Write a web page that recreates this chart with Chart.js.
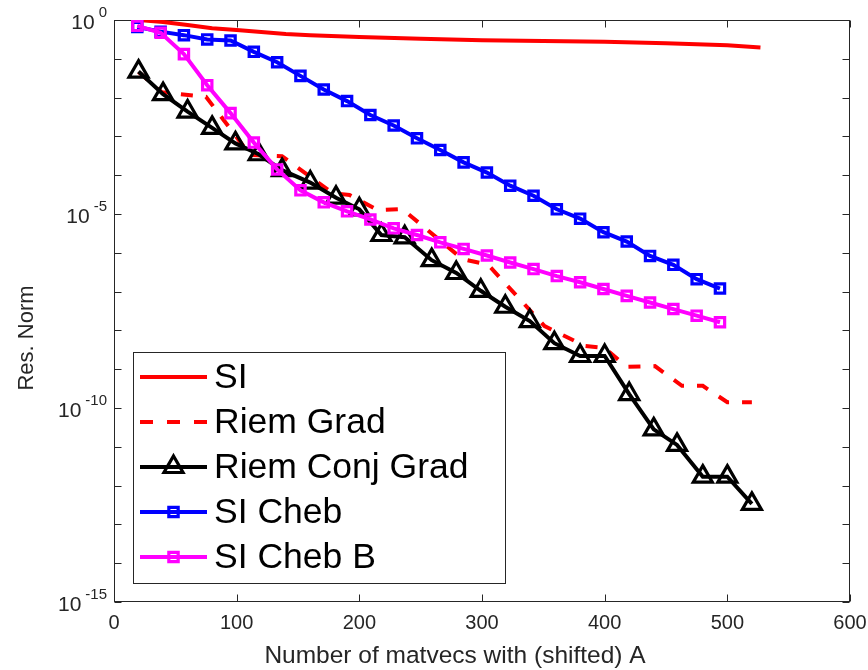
<!DOCTYPE html>
<html><head><meta charset="utf-8">
<script src="https://cdn.jsdelivr.net/npm/chart.js@4.4.0/dist/chart.umd.min.js"></script>
<style>html,body{margin:0;padding:0;background:#fff;} canvas{display:block;}</style>
</head><body>
<canvas id="c" width="868" height="670"></canvas>
<script>
// ---- data ----
const seriesNames = ['SI', 'Riem Grad', 'Riem Conj Grad', 'SI Cheb', 'SI Cheb B'];

const siX = [20, 40, 60, 80, 100, 120, 140, 160, 200, 250, 300, 350, 400, 450, 500, 527];
const siY = [1.0, 8.91e-1, 7.41e-1, 6.17e-1, 5.50e-1, 4.90e-1, 4.37e-1, 4.07e-1, 3.63e-1, 3.31e-1, 3.02e-1, 2.88e-1, 2.75e-1, 2.51e-1, 2.24e-1, 1.95e-1];

const rgX = [20, 39, 75, 111, 137, 178, 192, 215, 235, 284, 305, 351, 384, 400, 418, 441, 463, 480, 500, 520];
const rgY = [4.57e-2, 1.38e-2, 1.05e-2, 3.31e-4, 3.09e-4, 3.47e-5, 3.09e-5, 1.26e-5, 1.35e-5, 6.92e-7, 4.90e-7, 1.29e-8, 3.98e-9, 3.55e-9, 1.15e-9, 1.20e-9, 3.72e-10, 3.72e-10, 1.41e-10, 1.41e-10];

const rcgX = [20, 40, 60, 80, 99, 118, 137, 160, 181, 200, 218, 237, 259, 279, 299, 319, 339, 359, 380, 400, 420, 440, 459, 480, 500, 520];
const rcgY = [4.68e-2, 1.23e-2, 4.37e-3, 1.66e-3, 6.61e-4, 3.47e-4, 1.35e-4, 6.46e-5, 2.63e-5, 1.32e-5, 2.88e-6, 2.51e-6, 6.46e-7, 3.02e-7, 1.05e-7, 4.07e-8, 1.74e-8, 4.68e-9, 2.19e-9, 2.19e-9, 2.29e-10, 2.82e-11, 1.12e-11, 1.70e-12, 1.70e-12, 3.39e-13];

const chebX = [19, 38, 57, 76, 95, 114, 133, 152, 171, 190, 209, 228, 247, 266, 285, 304, 323, 342, 361, 380, 399, 418, 437, 456, 475, 494];
const chebY = [6.61e-1, 5.01e-1, 4.07e-1, 3.16e-1, 2.95e-1, 1.51e-1, 8.13e-2, 3.63e-2, 1.62e-2, 8.13e-3, 3.55e-3, 1.91e-3, 8.91e-4, 4.47e-4, 2.14e-4, 1.17e-4, 5.37e-5, 2.95e-5, 1.32e-5, 7.59e-6, 3.39e-6, 1.95e-6, 8.32e-7, 4.90e-7, 2.09e-7, 1.20e-7];

const chebBX = [19, 38, 57, 76, 95, 114, 133, 152, 171, 190, 209, 228, 247, 266, 285, 304, 323, 342, 361, 380, 399, 418, 437, 456, 475, 494];
const chebBY = [7.08e-1, 4.68e-1, 1.32e-1, 2.09e-2, 3.98e-3, 6.92e-4, 1.41e-4, 4.07e-5, 2.00e-5, 1.17e-5, 7.24e-6, 4.27e-6, 2.88e-6, 1.86e-6, 1.26e-6, 8.51e-7, 5.62e-7, 3.80e-7, 2.51e-7, 1.74e-7, 1.17e-7, 7.76e-8, 5.25e-8, 3.55e-8, 2.40e-8, 1.62e-8];

const xTickValues = [0, 100, 200, 300, 400, 500, 600];
const yLabelExponents = [0, -5, -10, -15];
const yTickExponents = [0, -1, -2, -3, -4, -5, -6, -7, -8, -9, -10, -11, -12, -13, -14, -15];
const xAxisTitle = 'Number of matvecs with (shifted) A';
const yAxisTitle = 'Res. Norm';

// ---- styling ----
const FONT = '"Liberation Sans", Arial, Helvetica, sans-serif';
const AX = '#262626';
const LW = 4;
const TRI_R = 11, RECT_R = 6.6;

function pts(xs, ys) { return xs.map((x, i) => ({ x: x, y: ys[i] })); }

const styles = [
  { color: '#ff0000', dash: [], marker: null },
  { color: '#ff0000', dash: [12, 13], marker: null },
  { color: '#000000', dash: [], marker: 'triangle' },
  { color: '#0000ff', dash: [], marker: 'rect' },
  { color: '#ff00ff', dash: [], marker: 'rect' }
];
const xs = [siX, rgX, rcgX, chebX, chebBX];
const ys = [siY, rgY, rcgY, chebY, chebBY];

const datasets = seriesNames.map((name, i) => ({
  label: name,
  data: pts(xs[i], ys[i]),
  borderColor: styles[i].color,
  borderWidth: LW,
  borderDash: styles[i].dash,
  tension: 0,
  fill: false,
  order: 5 - i,
  pointStyle: styles[i].marker || 'circle',
  pointRadius: styles[i].marker === 'triangle' ? TRI_R : (styles[i].marker === 'rect' ? RECT_R : 0),
  pointHoverRadius: 0,
  pointBorderWidth: 3.2,
  pointBorderColor: styles[i].color,
  pointBackgroundColor: 'rgba(0,0,0,0)'
}));

function drawMarker(ctx, type, x, y, r, color) {
  ctx.save();
  ctx.strokeStyle = color; ctx.lineWidth = 3.2; ctx.setLineDash([]);
  ctx.beginPath();
  if (type === 'rect') {
    const s = r * Math.SQRT1_2;
    ctx.rect(x - s, y - s, 2 * s, 2 * s);
  } else if (type === 'triangle') {
    let rad = 0;
    ctx.moveTo(x + Math.sin(rad) * r, y - Math.cos(rad) * r);
    rad += 2 * Math.PI / 3;
    ctx.lineTo(x + Math.sin(rad) * r, y - Math.cos(rad) * r);
    rad += 2 * Math.PI / 3;
    ctx.lineTo(x + Math.sin(rad) * r, y - Math.cos(rad) * r);
    ctx.closePath();
  }
  ctx.stroke();
  ctx.restore();
}

const axesPlugin = {
  id: 'matlabAxes',
  beforeDatasetsDraw(chart) {
    const { ctx, chartArea: a, scales: { x, y } } = chart;
    ctx.save();
    ctx.strokeStyle = AX; ctx.lineWidth = 1;
    const L = Math.round(a.left) + 0.5, R = Math.round(a.right) - 0.5;
    const T = Math.round(a.top) + 0.5, B = Math.round(a.bottom) - 0.5;
    ctx.strokeRect(L, T, R - L, B - T);
    const tl = 7;
    ctx.beginPath();
    xTickValues.forEach(v => {
      const px = Math.round(x.getPixelForValue(v)) + 0.5;
      ctx.moveTo(px, B); ctx.lineTo(px, B - tl);
      ctx.moveTo(px, T); ctx.lineTo(px, T + tl);
    });
    yTickExponents.forEach(e => {
      const py = Math.round(y.getPixelForValue(Math.pow(10, e))) + 0.5;
      ctx.moveTo(L, py); ctx.lineTo(L + tl, py);
      ctx.moveTo(R, py); ctx.lineTo(R - tl, py);
    });
    ctx.stroke();

    ctx.fillStyle = AX;
    ctx.font = '20px ' + FONT; ctx.textAlign = 'center'; ctx.textBaseline = 'middle';
    xTickValues.forEach(v => ctx.fillText(String(v), x.getPixelForValue(v), 623));

    yLabelExponents.forEach(e => {
      const py = y.getPixelForValue(Math.pow(10, e));
      const expStr = e === 0 ? '0' : '-' + (-e);
      ctx.textAlign = 'right';
      ctx.font = '15px ' + FONT;
      const ew = ctx.measureText(expStr).width;
      ctx.fillText(expStr, 107, py - 7);
      ctx.font = '21px ' + FONT;
      ctx.fillText('10', 107 - ew - 4, py + 3);
    });

    ctx.textAlign = 'center';
    ctx.font = '24.5px ' + FONT;
    ctx.fillText(xAxisTitle, 455, 656);
    ctx.save();
    ctx.translate(27, 338);
    ctx.rotate(-Math.PI / 2);
    ctx.font = '22px ' + FONT;
    ctx.fillText(yAxisTitle, 0, 0);
    ctx.restore();
    ctx.restore();
  },
  afterDraw(chart) {
    const ctx = chart.ctx;
    ctx.save();
    const bx = 133.5, by = 352.5, bw = 372, bh = 231;
    ctx.fillStyle = '#ffffff';
    ctx.fillRect(bx, by, bw, bh);
    ctx.strokeStyle = AX; ctx.lineWidth = 1;
    ctx.strokeRect(bx, by, bw, bh);
    const rows = [377, 422, 467, 512, 557];
    seriesNames.forEach((name, i) => {
      const yy = rows[i];
      const st = styles[i];
      ctx.strokeStyle = st.color; ctx.lineWidth = LW;
      ctx.setLineDash(i === 1 ? [13, 14] : []);
      ctx.beginPath(); ctx.moveTo(140, yy); ctx.lineTo(207, yy); ctx.stroke();
      ctx.setLineDash([]);
      if (st.marker) drawMarker(ctx, st.marker, 173.5, yy, st.marker === 'triangle' ? TRI_R : RECT_R, st.color);
      ctx.fillStyle = '#000000';
      ctx.font = '35.5px ' + FONT; ctx.textAlign = 'left'; ctx.textBaseline = 'middle';
      ctx.fillText(name, 214, yy + 1);
    });
    ctx.restore();
  }
};

new Chart(document.getElementById('c'), {
  type: 'line',
  data: { datasets: datasets },
  options: {
    responsive: false,
    animation: false,
    devicePixelRatio: 1,
    layout: { padding: { left: 0, right: 18, top: 20, bottom: 0 } },
    plugins: { legend: { display: false }, tooltip: { enabled: false } },
    events: [],
    scales: {
      x: {
        type: 'linear', min: 0, max: 600,
        grid: { display: false }, border: { display: false },
        ticks: { display: false },
        afterFit(s) { s.height = 68; }
      },
      y: {
        type: 'logarithmic', min: 1e-15, max: 1,
        grid: { display: false }, border: { display: false },
        ticks: { display: false },
        afterFit(s) { s.width = 114; }
      }
    }
  },
  plugins: [axesPlugin]
});
</script>
</body></html>
